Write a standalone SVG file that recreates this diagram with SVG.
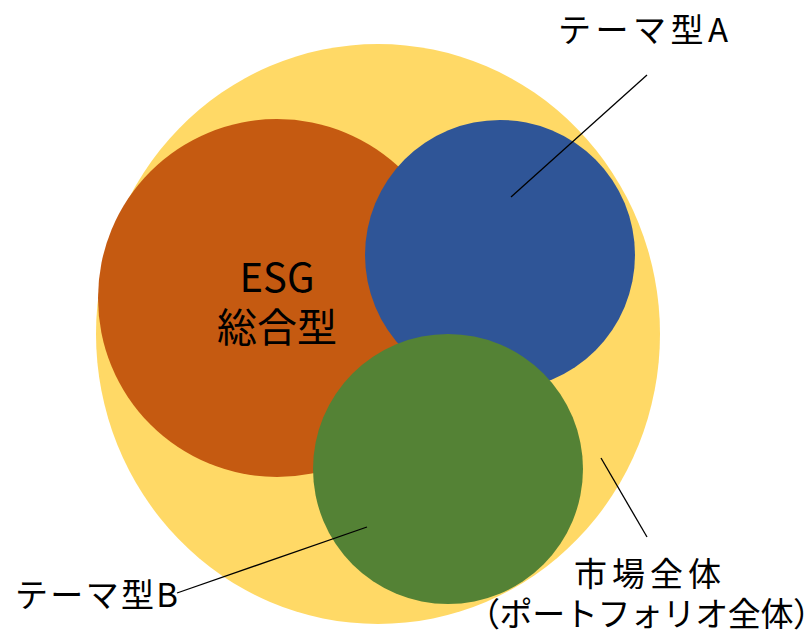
<svg xmlns="http://www.w3.org/2000/svg" width="810" height="633" viewBox="0 0 810 633">
<style>
text{font-family:"Noto Sans CJK JP","Noto Sans",sans-serif;fill:#000}
.lbl{font-size:33px}
.big{font-size:40px;text-anchor:middle}
.conn line{stroke:#000;stroke-width:1.3}
</style>
<rect width="810" height="633" fill="#fff"/>
<g id="market"><ellipse cx="378" cy="334" rx="282" ry="290" fill="#FFD966"/></g>
<g id="esg"><circle cx="277" cy="298" r="179" fill="#C55A11"/>
<text class="big" x="277" y="292">ESG</text>
<text class="big" x="277" y="342">総合型</text></g>
<g id="themeA"><circle cx="500" cy="255" r="135" fill="#2F5597"/></g>
<g id="themeB"><circle cx="448" cy="469" r="135" fill="#548235"/></g>
<g class="conn" id="connectors">
<line x1="647" y1="75" x2="511" y2="197"/>
<line x1="367" y1="527" x2="177" y2="593"/>
<line x1="601" y1="458" x2="647" y2="537"/>
</g>
<g id="labels">
<text class="lbl" x="558" y="42" textLength="170" lengthAdjust="spacing">テーマ型A</text>
<text class="lbl" x="15" y="607" textLength="163" lengthAdjust="spacing">テーマ型B</text>
<text class="lbl" x="574" y="586" textLength="147" lengthAdjust="spacing">市場全体</text>
<text class="lbl" x="467" y="626" textLength="359" lengthAdjust="spacing">（ポートフォリオ全体）</text>
</g>
</svg>
